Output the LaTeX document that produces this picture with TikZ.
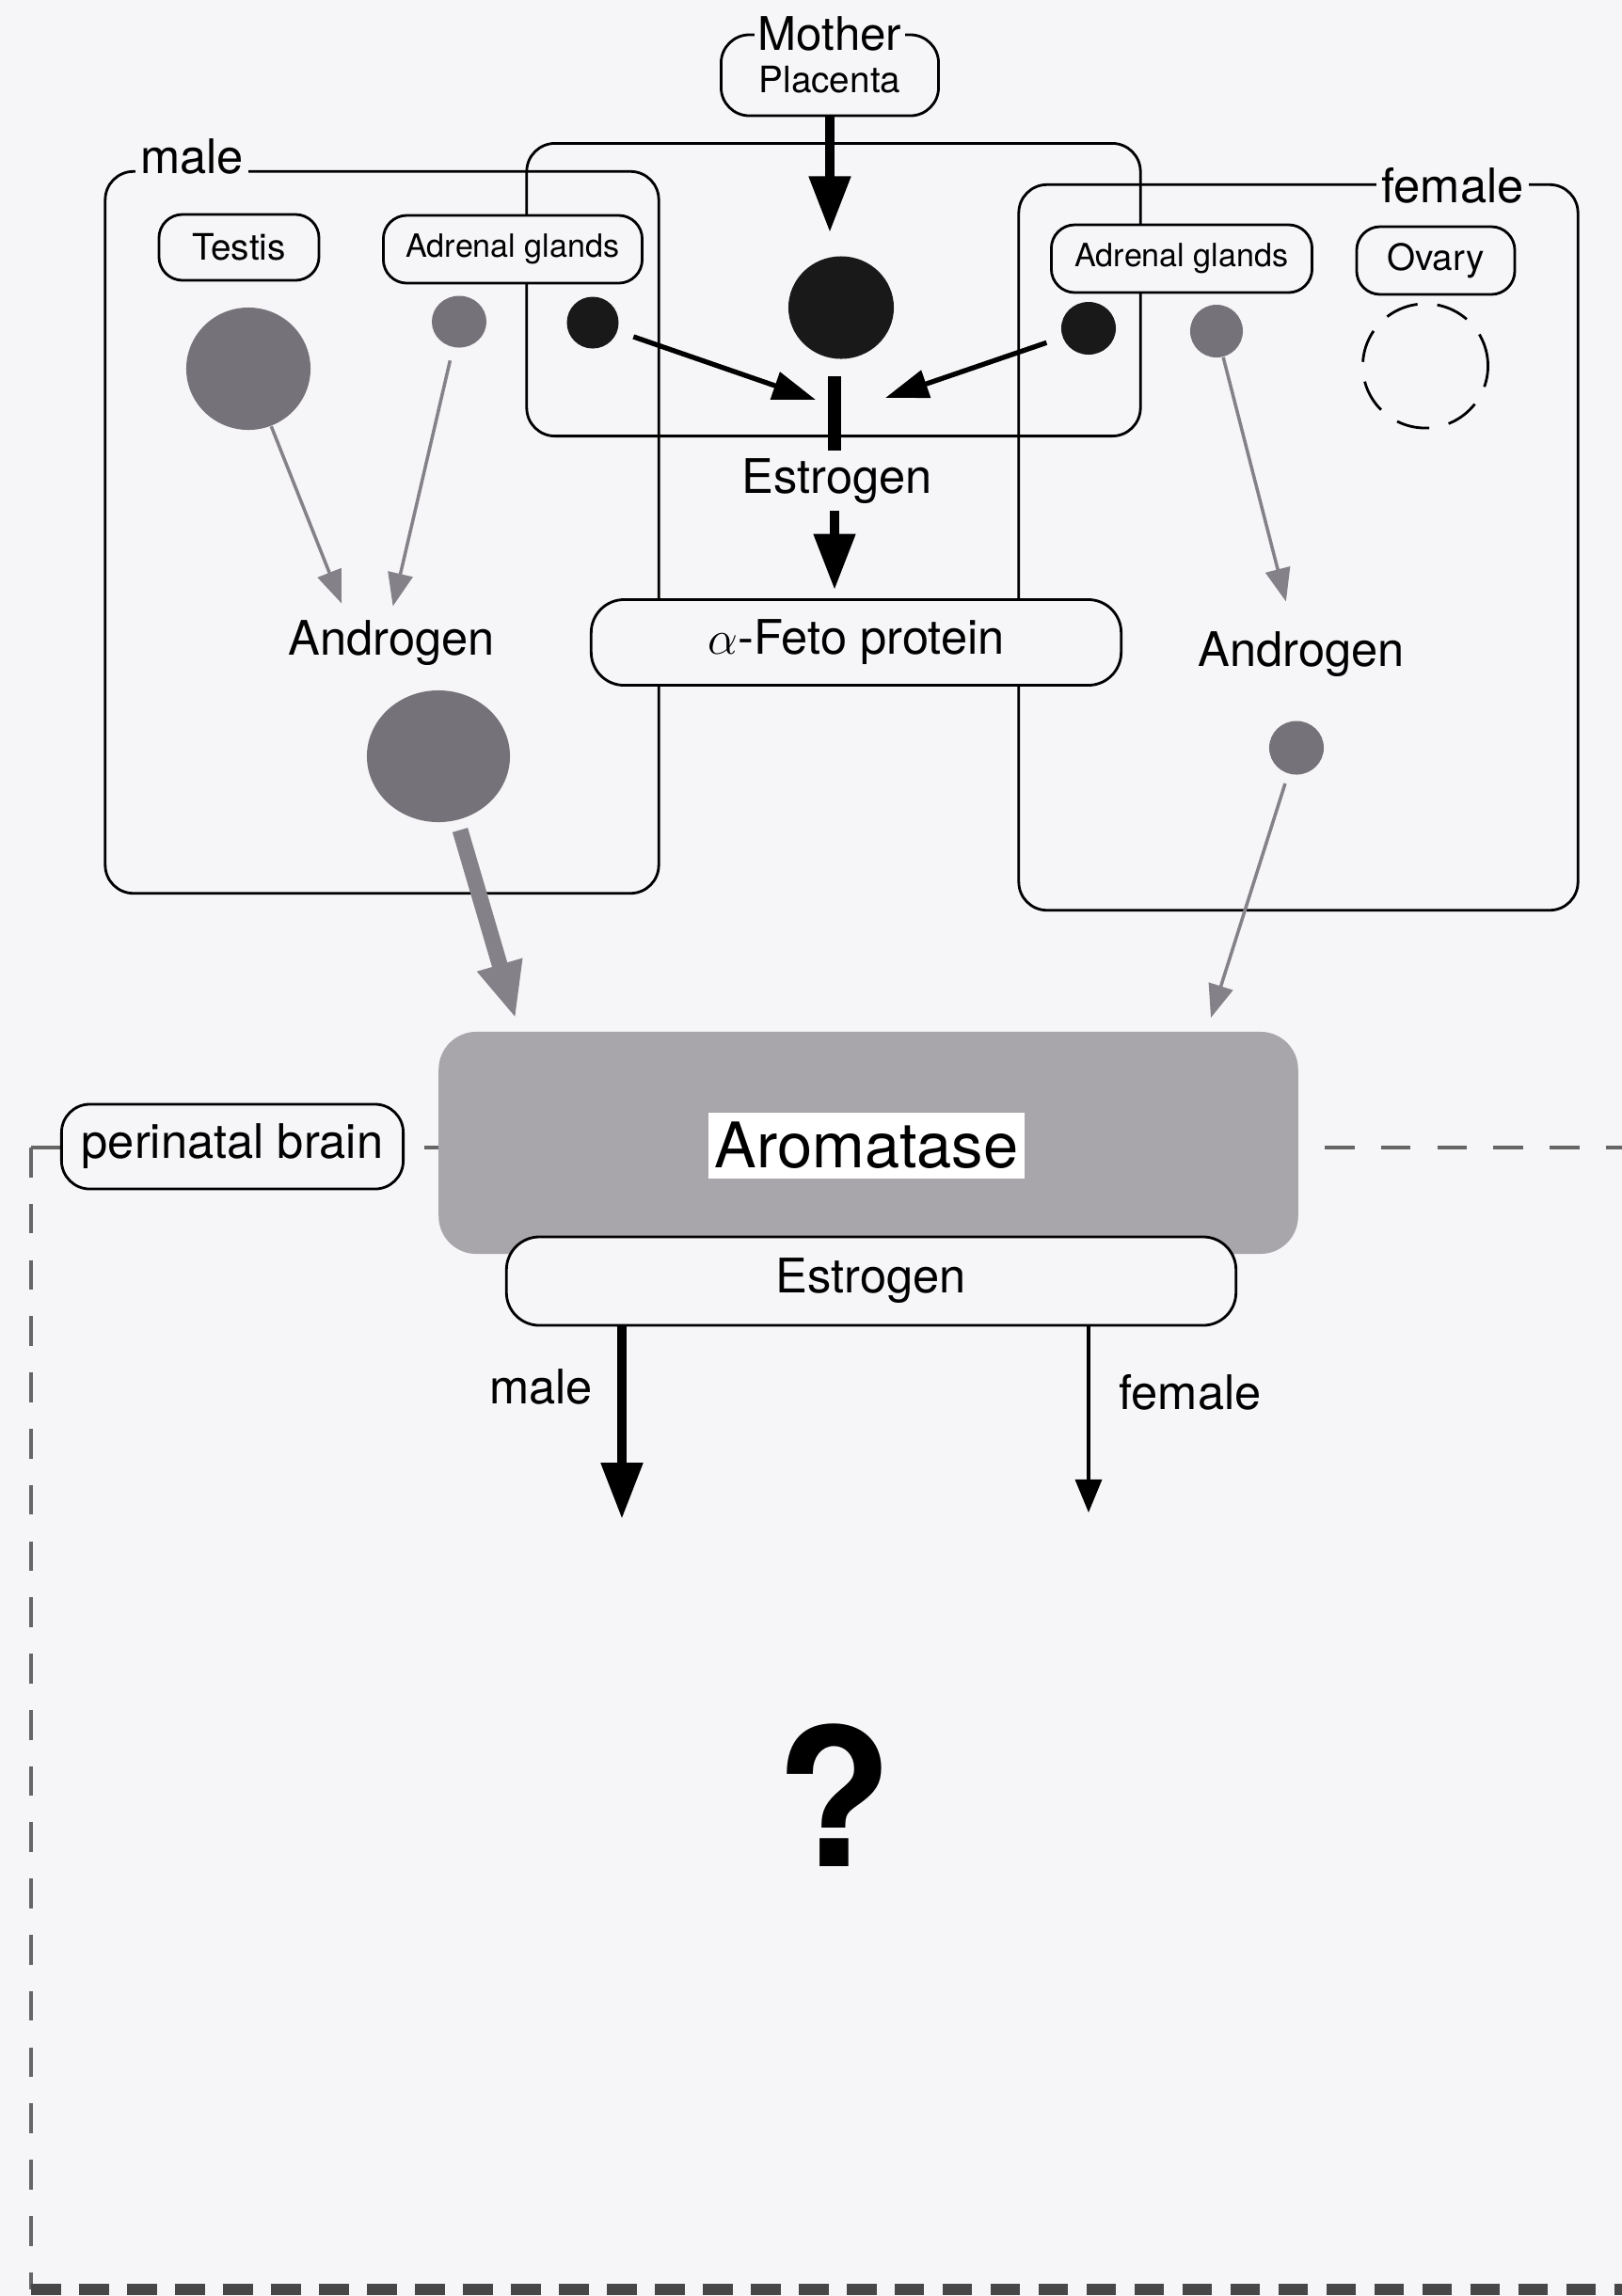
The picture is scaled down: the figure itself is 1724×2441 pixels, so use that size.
\documentclass[tikz,border=0pt]{standalone}
\usepackage{fontspec}
\setmainfont{TeX Gyre Heros}
\usetikzlibrary{arrows.meta,shapes.geometric}
\definecolor{paper}{RGB}{246,245,247}
\definecolor{tone}{RGB}{118,114,122}
\definecolor{toneline}{RGB}{132,129,136}
\definecolor{wash}{RGB}{168,165,171}
\begin{document}
\begin{tikzpicture}[x=0.01cm,y=-0.01cm]
	\tikzstyle{region} = [draw, line width=0.8pt, rounded corners=0.3cm, minimum width=1cm]
	\tikzstyle{pill} = [draw, fill=paper, line width=0.8pt, rounded corners=0.25cm]
	\tikzstyle{word} = [inner sep=2pt, font={\fontsize{14.4}{17}\selectfont}]
	\tikzstyle{small} = [font={\fontsize{11}{13}\selectfont}]
	\tikzstyle{tiny} = [font={\fontsize{9.7}{12}\selectfont}]
	\tikzstyle{tag} = [word, fill=paper, inner sep=1.5pt]
	\tikzstyle{spot} = [ellipse, inner sep=0pt]
	\tikzstyle{graydot} = [spot, fill=tone]
	\tikzstyle{blackdot} = [spot, fill=black!90]
	\tikzstyle{frame} = [draw=black!60, line width=0.9pt, dash pattern=on 9pt off 8pt]
	\tikzstyle{heavy} = [line width=3pt, -{Triangle[length=17pt,width=12pt]}]
	\tikzstyle{pointer} = [line width=1.5pt, -{Triangle[length=13pt,width=8.5pt]}]
	\tikzstyle{faint} = [draw=toneline, line width=1pt, -{Triangle[length=10pt,width=7.5pt]}]
	\tikzstyle{broad} = [draw=toneline, line width=4.8pt, -{Triangle[length=17pt,width=13pt]}]
	\tikzstyle{lean} = [line width=0.9pt, -{Triangle[length=10pt,width=8pt]}]

	\useasboundingbox (0,0) rectangle (1724,2441);
	\fill[paper] (0,0) rectangle (1724,2441);

	\draw[frame] (33,1220) -- (1724,1220);
	\draw[frame] (33,1220) -- (33,2434);
	\draw[frame, draw=black!72, line width=3.4pt, dash pattern=on 9pt off 5.5pt] (33,2434) -- (1724,2434);

	\node[region, minimum width=6.52cm, minimum height=3.11cm] (maternal) at (886,308) {};
	\node[region, minimum width=5.88cm, minimum height=7.67cm] (malebox) at (406,566) {};
	\node[region, minimum width=5.94cm, minimum height=7.71cm] (femalebox) at (1380,582) {};
	\node[tag, anchor=base] (malename) at (204,184) {male};
	\node[tag] (femalename) at (1544,197) {female};

	\node[pill, small, minimum width=2.31cm, minimum height=0.86cm, rounded corners=0.3cm, text height=13pt, text depth=2.3pt] (placenta) at (882,80) {Placenta};
	\node[tag, inner sep=1pt, font={\fontsize{14}{16}\selectfont}] (mother) at (placenta.north) {Mother};
	\node[pill, small, minimum width=1.70cm, minimum height=0.70cm] (testis) at (254,263) {Testis};
	\node[pill, tiny, minimum width=2.75cm, minimum height=0.72cm] (madrenal) at (545,265) {Adrenal glands};
	\node[pill, tiny, minimum width=2.77cm, minimum height=0.72cm] (fadrenal) at (1256,275) {Adrenal glands};
	\node[pill, small, minimum width=1.68cm, minimum height=0.72cm] (ovary) at (1526,277) {Ovary};

	\node[blackdot, minimum width=1.12cm, minimum height=1.09cm] (placentadot) at (894,327) {};
	\node[blackdot, minimum width=0.55cm, minimum height=0.55cm] (madrenalsrc) at (630,343) {};
	\node[blackdot, minimum width=0.58cm, minimum height=0.56cm] (fadrenalsrc) at (1157,349) {};
	\node[graydot, minimum width=0.58cm, minimum height=0.55cm] (madrenaldot) at (488,342) {};
	\node[graydot, minimum width=0.56cm, minimum height=0.56cm] (fadrenaldot) at (1293,352) {};
	\node[graydot, minimum width=1.32cm, minimum height=1.30cm] (testisdot) at (264,392) {};
	\node[spot, draw, line width=0.8pt, dash pattern=on 10pt off 6pt, minimum width=1.33cm, minimum height=1.32cm] (ovarydot) at (1515,389) {};
	\node[graydot, minimum width=1.52cm, minimum height=1.40cm] (mandrogendot) at (466,804) {};
	\node[graydot, minimum width=0.58cm, minimum height=0.57cm] (fandrogendot) at (1378,795) {};

	\node[word, anchor=base] (estrogen) at (890,524) {Estrogen};
	\node[word, anchor=base] (mandrogen) at (416,696) {Androgen};
	\node[word, anchor=base] (fandrogen) at (1383,708) {Androgen};
	\node[pill, word, minimum width=5.63cm, minimum height=0.91cm, rounded corners=0.35cm] (afp) at (910,683) {$\alpha$-Feto protein};

	\coordinate (lefttip) at (867,425);
	\coordinate (righttip) at (941,423);
	\coordinate (meet) at (887,400);
	\coordinate (aroml) at (548,1083);
	\coordinate (aromr) at (1287,1082);
	\coordinate (maletip) at (661,1615);
	\coordinate (femaletip) at (1157,1608);

	\draw[heavy, shorten >=7pt] (placenta.south) -- (placenta.south |- placentadot.north);
	\draw[pointer, shorten <=5pt] (madrenalsrc) -- (lefttip);
	\draw[pointer, shorten <=5pt] (fadrenalsrc) -- (righttip);
	\draw[line width=4pt] (meet) -- (meet |- estrogen.north);
	\draw[heavy, shorten >=2.5pt] (meet |- estrogen.south) -- (meet |- afp.north);
	\draw[faint, shorten >=3pt] (testisdot) -- ([xshift=-0.49cm]mandrogen.north);
	\draw[faint, shorten <=4pt, shorten >=2pt] (madrenaldot) -- (mandrogen.north);
	\draw[faint, shorten >=7pt] (fadrenaldot) -- ([xshift=-0.1cm]fandrogen.north);
	\draw[faint, shorten <=3pt] (fandrogendot) -- (aromr);
	\draw[broad, shorten <=3pt] (mandrogendot) -- (aroml);

	\node[fill=wash, rounded corners=0.4cm, minimum width=9.13cm, minimum height=2.36cm] (aromatase) at (923,1215) {};
	\node[fill=white, inner sep=1pt, minimum width=3.36cm, minimum height=0.70cm, font={\fontsize{19}{22}\selectfont}] (enzyme) at (921,1218) {Aromatase};
	\node[pill, word, minimum width=3.63cm, minimum height=0.90cm, rounded corners=0.3cm] (brain) at (247,1219) {perinatal brain};
	\node[pill, word, minimum width=7.75cm, minimum height=0.94cm, rounded corners=0.35cm] (estrogenout) at (926,1362) {Estrogen};

	\draw[heavy] (estrogenout.south -| maletip) -- (maletip);
	\draw[lean] (estrogenout.south -| femaletip) -- (femaletip);
	\node[word] (maleway) at (575,1474) {male};
	\node[word] (femaleway) at (1265,1480) {female};
	\node[font={\fontsize{58}{60}\selectfont\bfseries}] (query) at (887,1909) {?};
\end{tikzpicture}
\end{document}
